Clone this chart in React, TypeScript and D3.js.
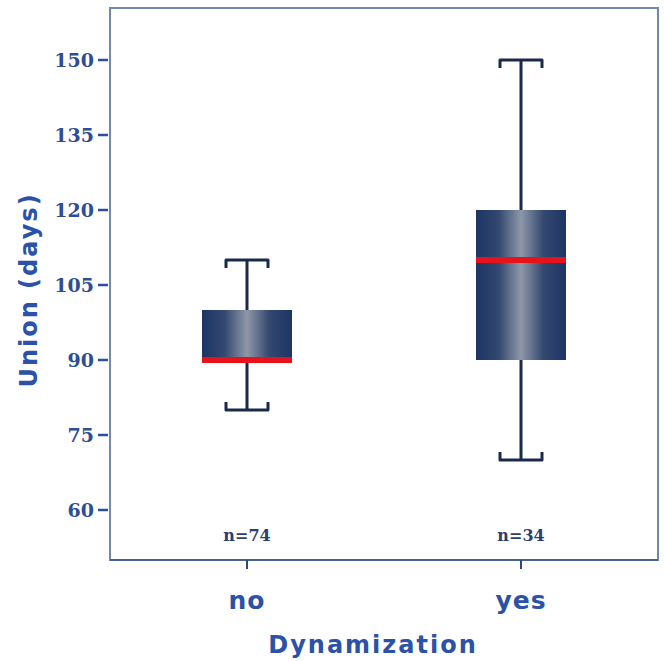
import React from "react";
import * as d3 from "d3";

const groups = ["no", "yes"];
const counts = [74, 34];
const mins = [80, 70];
const q1s = [90, 90];
const medians = [90, 110];
const q3s = [100, 120];
const maxs = [110, 150];
const yTicks = [60, 75, 90, 105, 120, 135, 150];

const W = 665;
const H = 661;
const left = 110;
const right = 658;
const top = 8;
const bottom = 560;

const App = () => {
  const y = d3.scaleLinear().domain([50, 160.4]).range([bottom, top]);
  const x = d3.scalePoint<string>().domain(groups).range([left, right]).padding(0.5);
  const boxW = 90;
  const capW = 42;
  const hook = 8;
  const ink = "#1c2a4a";
  const blue = "#2a4f9c";

  return (
    <svg width={W} height={H} style={{ position: "absolute", left: 0, top: 0, background: "#fff" }}>
      <defs>
        <linearGradient id="boxGrad" x1="0" x2="1" y1="0" y2="0">
          <stop offset="0" stopColor="#1d3566" />
          <stop offset="0.25" stopColor="#33486f" />
          <stop offset="0.5" stopColor="#8e97a8" />
          <stop offset="0.75" stopColor="#33486f" />
          <stop offset="1" stopColor="#1d3566" />
        </linearGradient>
      </defs>

      {/* frame */}
      <rect x={left} y={top} width={right - left} height={bottom - top} fill="#fff" stroke="#7088b4" strokeWidth={2} />
      <line x1={left} x2={right} y1={bottom} y2={bottom} stroke="#4a6290" strokeWidth={2} />

      {/* y axis */}
      {yTicks.map((t) => (
        <g key={t}>
          <line x1={left - 12} x2={left - 2} y1={y(t)} y2={y(t)} stroke={blue} strokeWidth={2.5} />
          <text x={left - 16} y={y(t)} dy="0.36em" textAnchor="end" fontFamily="DejaVu Serif" fontWeight="bold" fontSize={19} fill="#2d4e94">
            {t}
          </text>
        </g>
      ))}
      <text transform={`translate(37,${(top + bottom) / 2 + 6}) rotate(-90)`} textAnchor="middle" fontFamily="DejaVu Sans" fontWeight="bold" fontSize={24} letterSpacing={2} fill="#2b52a6">
        Union (days)
      </text>

      {/* x axis */}
      {groups.map((g) => (
        <g key={g}>
          <line x1={x(g)} x2={x(g)} y1={bottom} y2={bottom + 9} stroke="#2d4a80" strokeWidth={2} />
          <text x={x(g)} y={609} textAnchor="middle" fontFamily="DejaVu Sans" fontWeight="bold" fontSize={25} letterSpacing={1} fill="#2b52a6">
            {g}
          </text>
        </g>
      ))}
      <text x={373} y={653} textAnchor="middle" fontFamily="DejaVu Sans" fontWeight="bold" fontSize={24} letterSpacing={2} fill="#2b52a6">
        Dynamization
      </text>

      {/* boxes */}
      {groups.map((g, i) => {
        const cx = x(g) as number;
        return (
          <g key={g}>
            <line x1={cx} x2={cx} y1={y(maxs[i])} y2={y(mins[i])} stroke={ink} strokeWidth={3} />
            <path
              d={`M${cx - capW / 2},${y(maxs[i]) + hook}V${y(maxs[i])}H${cx + capW / 2}V${y(maxs[i]) + hook}`}
              fill="none"
              stroke={ink}
              strokeWidth={3}
              strokeLinejoin="round"
            />
            <path
              d={`M${cx - capW / 2},${y(mins[i]) - hook}V${y(mins[i])}H${cx + capW / 2}V${y(mins[i]) - hook}`}
              fill="none"
              stroke={ink}
              strokeWidth={3}
              strokeLinejoin="round"
            />
            <rect x={cx - boxW / 2} y={y(q3s[i])} width={boxW} height={y(q1s[i]) - y(q3s[i])} fill="url(#boxGrad)" />
            <line x1={cx - boxW / 2} x2={cx + boxW / 2} y1={y(medians[i])} y2={y(medians[i])} stroke="#e8121a" strokeWidth={6} />
            <text x={cx} y={541} textAnchor="middle" fontFamily="DejaVu Serif" fontWeight="bold" fontSize={16} fill="#2d3f6e">
              n={counts[i]}
            </text>
          </g>
        );
      })}
    </svg>
  );
};

export default App;
